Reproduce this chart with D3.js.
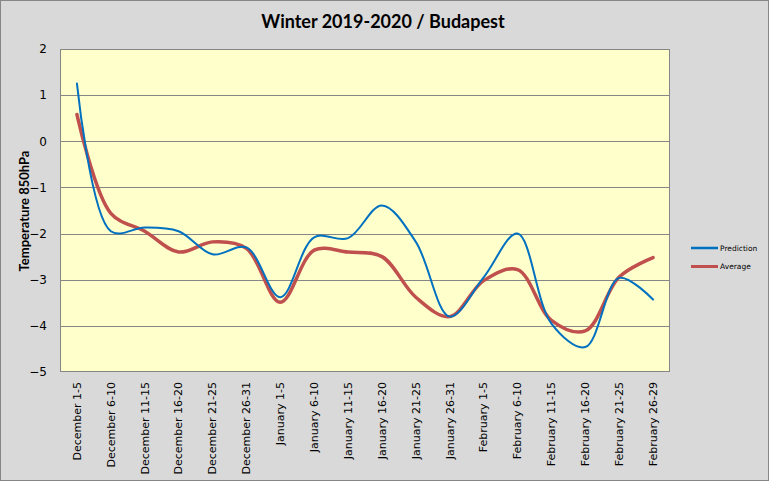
<!DOCTYPE html>
<html><head><meta charset="utf-8">
<script src="https://cdn.jsdelivr.net/npm/d3@7"></script>
<style>body{margin:0;background:#fff}svg{display:block}</style>
</head><body><svg id="c" width="769" height="481"></svg>
<script>
const categories = ["December 1-5","December 6-10","December 11-15","December 16-20","December 21-25","December 26-31","January 1-5","January 6-10","January 11-15","January 16-20","January 21-25","January 26-31","February 1-5","February 6-10","February 11-15","February 16-20","February 21-25","February 26-29"];
const prediction = [1.25,-1.95,-1.87,-1.95,-2.45,-2.3,-3.38,-2.08,-2.1,-1.39,-2.18,-3.8,-2.95,-2.0,-3.95,-4.46,-2.96,-3.43];
const average = [0.58,-1.56,-1.95,-2.4,-2.18,-2.32,-3.49,-2.36,-2.4,-2.5,-3.38,-3.8,-3.02,-2.78,-3.88,-4.11,-2.94,-2.52];
const yTicks = [2,1,0,-1,-2,-3,-4,-5];
const seriesNames = ["Prediction","Average"];
const seriesColors = ["#0070C0","#C0504D"];

const svg = d3.select("#c");
const W = 769, H = 481;
const m = {l:60, t:49, r:670, b:372};
svg.append("rect").attr("x",0.5).attr("y",0.5).attr("width",W-1).attr("height",H-1).attr("fill","#D9D9D9").attr("stroke","#868686");
svg.append("rect").attr("x",m.l).attr("y",m.t).attr("width",m.r-m.l).attr("height",m.b-m.t).attr("fill","#FFFFCC");

const x = d3.scaleBand().domain(categories).range([m.l,m.r]);
const y = d3.scaleLinear().domain([-5,2]).range([m.b,m.t]);

// gridlines
svg.append("g").selectAll("line").data(yTicks.filter(d=>d>-5 && d<2)).join("line")
  .attr("x1",m.l).attr("x2",m.r).attr("y1",d=>Math.round(y(d))+0.5).attr("y2",d=>Math.round(y(d))+0.5)
  .attr("stroke","#868686").attr("stroke-width",1);
// plot border
svg.append("rect").attr("x",m.l+0.5).attr("y",m.t+0.5).attr("width",m.r-m.l-1).attr("height",m.b-m.t-1)
  .attr("fill","none").attr("stroke","#868686");

// y axis labels
const ya = d3.axisLeft(y).tickValues(yTicks).tickSize(0).tickPadding(13).tickFormat(d3.format("d"));
const gy = svg.append("g").attr("transform",`translate(${m.l},0)`).call(ya);
gy.select(".domain").remove();
gy.selectAll("text").attr("font-family","DejaVu Sans, Verdana, sans-serif").attr("font-size",12).attr("fill","#000");

// x axis labels
const xa = d3.axisBottom(x).tickSize(0).tickPadding(0);
const gx = svg.append("g").attr("transform",`translate(0,${m.b})`).call(xa);
gx.select(".domain").remove();
gx.selectAll("text").attr("font-family","DejaVu Sans, Verdana, sans-serif").attr("font-size",11).attr("fill","#000")
  .attr("transform","rotate(-90)").attr("text-anchor","end").attr("dy","0.35em").attr("x",-10).attr("y",0);

// title
svg.append("text").attr("x",383).attr("y",28).attr("text-anchor","middle").attr("font-family","Lato, sans-serif")
  .attr("font-weight","bold").attr("font-size",18).text("Winter 2019-2020 / Budapest");
// y title
svg.append("text").attr("transform","translate(29,211) rotate(-90)").attr("text-anchor","middle")
  .attr("font-family","Lato, sans-serif").attr("font-weight","bold").attr("font-size",13).text("Temperature 850hPa");

const line = d3.line().x((d,i)=>x(categories[i])+x.bandwidth()/2).y(d=>y(d)).curve(d3.curveCatmullRom.alpha(0.5));
svg.append("path").datum(average).attr("d",line).attr("fill","none").attr("stroke",seriesColors[1]).attr("stroke-width",3.5).attr("stroke-linecap","round");
svg.append("path").datum(prediction).attr("d",line).attr("fill","none").attr("stroke",seriesColors[0]).attr("stroke-width",2).attr("stroke-linecap","round");

// legend
const lg = svg.append("g");
seriesNames.forEach((n,i)=>{
  const yy = 248 + i*18.5;
  lg.append("line").attr("x1",691).attr("x2",718).attr("y1",yy).attr("y2",yy).attr("stroke",seriesColors[i]).attr("stroke-width",i?3:2.5);
  lg.append("text").attr("x",720).attr("y",yy).attr("dy","0.35em").attr("font-family","DejaVu Sans, sans-serif").attr("font-size",7.5).text(n);
});
</script></body></html>
